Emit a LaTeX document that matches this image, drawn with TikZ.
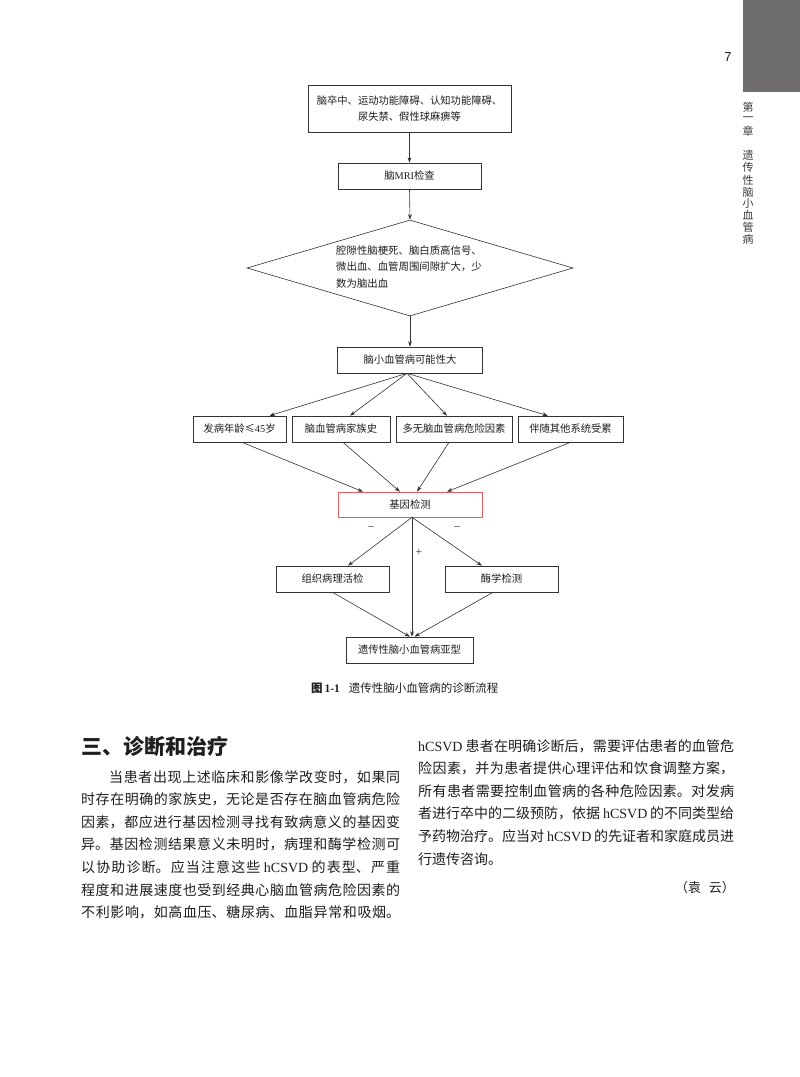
\documentclass[tikz,border=0pt]{standalone}
\usepackage{fontspec}
\setmainfont{Liberation Serif}
\newfontfamily\cjk{Noto Sans CJK SC}
\newfontfamily\sanslat{Liberation Sans}
\usetikzlibrary{shapes.geometric,arrows.meta}
\newcommand\latn[1]{{\rmfamily #1}}
\newcommand\bodysetup{\XeTeXlinebreaklocale "zh"\XeTeXlinebreakskip=0pt plus 6pt\XeTeXlinebreakpenalty=10000\relax}
\definecolor{linecol}{RGB}{50,50,50}
\definecolor{txt}{RGB}{30,30,30}
\definecolor{genered}{RGB}{232,90,100}
\definecolor{tabgray}{RGB}{110,108,108}
\definecolor{vtxt}{RGB}{60,60,60}
\begin{document}
\begin{tikzpicture}[x=1pt,y=-1pt,
  fc/.style={draw=linecol, line width=0.6pt, inner sep=0pt, text=txt,
    font=\cjk\fontsize{10.3}{16}\selectfont},
  ftext/.style={inner sep=0pt, text=txt, font=\cjk\fontsize{10.4}{16.5}\selectfont},
  arr/.style={draw=linecol, line width=0.6pt, -{Stealth[length=5.5pt,width=3.8pt]}},
  lab/.style={inner sep=0pt, text=txt, font=\fontsize{11}{12}\selectfont},
  body/.style={inner sep=0pt, text=txt, align=justify,
    font=\cjk\fontsize{14}{22.6}\selectfont\bodysetup},
]
\useasboundingbox (0,0) rectangle (800,1077);
\fill[white] (0,0) rectangle (800,1077);

% side tab and page number
\fill[tabgray] (743,0) rectangle (800,92);
\node[font=\sanslat\fontsize{13}{13}\selectfont, text=txt] (pn) at (728,57) {7};
\foreach \c/\yy in {第/107,一/119,章/131,遗/155,传/167,性/180,脑/192,小/203,血/215,管/227,病/239}
  \node[font=\cjk\fontsize{11}{11}\selectfont, text=vtxt, inner sep=0pt] (v\yy) at (748,\yy) {\c};

% flowchart
\node[fc, minimum width=203pt, minimum height=47pt, align=center] (b1) at (409.5,108.5)
  {脑卒中、运动功能障碍、认知功能障碍、\\尿失禁、假性球麻痹等};
\node[fc, minimum width=143pt, minimum height=26pt] (b2) at (409.5,176) {脑\latn{MRI}检查};
\node[draw=linecol, line width=0.6pt, diamond, minimum width=326pt, minimum height=96pt, inner sep=0pt] (d) at (410,268) {};
\node[ftext, anchor=north west, align=left] (dt) at (336,245.5)
  {腔隙性脑梗死、脑白质高信号、\\微出血、血管周围间隙扩大，少\\数为脑出血};
\node[fc, minimum width=145pt, minimum height=26pt] (b3) at (410,360) {脑小血管病可能性大};

\node[fc, minimum width=93pt, minimum height=26pt] (b4a) at (239.5,429) {发病年龄≤\latn{45}岁};
\node[fc, minimum width=98pt, minimum height=26pt] (b4b) at (341,429) {脑血管病家族史};
\node[fc, minimum width=116pt, minimum height=26pt] (b4c) at (454,429) {多无脑血管病危险因素};
\node[fc, minimum width=105pt, minimum height=26pt] (b4d) at (570.5,429) {伴随其他系统受累};

\node[fc, draw=genered, minimum width=144pt, minimum height=25pt] (g) at (410,504.5) {基因检测};
\node[fc, minimum width=113pt, minimum height=26pt] (t) at (332.5,579) {组织病理活检};
\node[fc, minimum width=113pt, minimum height=26pt] (e) at (501.5,579) {酶学检测};
\node[fc, minimum width=127pt, minimum height=26pt] (s) at (409.5,650) {遗传性脑小血管病亚型};

\draw[arr] (b1.south) -- (b2.north);
\draw[arr] (b2.south) -- (d.north);
\draw[arr] (d.south) -- (b3.north);

\draw[arr] ([xshift=-3pt]b3.south) -- ([xshift=30pt]b4a.north);
\draw[arr] ([xshift=-3pt]b3.south) -- ([xshift=9pt]b4b.north);
\draw[arr] ([xshift=-3pt]b3.south) -- ([xshift=-7pt]b4c.north);
\draw[arr] ([xshift=-3pt]b3.south) -- ([xshift=-22.5pt]b4d.north);

\draw[arr] ([xshift=2.5pt]b4a.south) -- ([xshift=-47pt]g.north);
\draw[arr] ([xshift=2pt]b4b.south) -- ([xshift=-10pt]g.north);
\draw[arr] ([xshift=-5pt]b4c.south) -- ([xshift=7pt]g.north);
\draw[arr] (b4d.south) -- ([xshift=37pt]g.north);

\draw[arr] ([xshift=2pt]g.south) -- ([xshift=15.5pt]t.north);
\draw[arr] ([xshift=2pt]g.south) -- ([xshift=-19.5pt]e.north);
\draw[arr] ([xshift=2pt]g.south) -- ([xshift=2.5pt]s.north);
\draw[arr] (t.south) -- ([xshift=0.5pt]s.north);
\draw[arr] ([xshift=-8.5pt]e.south) -- ([xshift=5pt]s.north);

\node[lab] (m1) at (371,528) {–};
\node[lab] (m2) at (457,528) {–};
\node[lab] (p) at (419,552) {+};

\node[anchor=west, inner sep=0pt, text=txt, font=\fontsize{11.5}{13}\selectfont] (cap) at (311,688)
  {{\bfseries\cjk 图\,\rmfamily 1-1}\hspace{9pt}{\cjk 遗传性脑小血管病的诊断流程}};

% text
\node[anchor=west, inner sep=0pt, text=txt, font=\cjk\bfseries\fontsize{21}{24}\selectfont] (h) at (81,747) {三、诊断和治疗};

\node[body, text width=319pt, anchor=base west] (p1) at (81,782)
{\hspace*{2em}当患者出现上述临床和影像学改变时，如果同\linebreak
时存在明确的家族史，无论是否存在脑血管病危险\linebreak
因素，都应进行基因检测寻找有致病意义的基因变\linebreak
异。基因检测结果意义未明时，病理和酶学检测可\linebreak
以协助诊断。应当注意这些~\latn{hCSVD}~的表型、严重\linebreak
程度和进展速度也受到经典心脑血管病危险因素的\linebreak
不利影响，如高血压、糖尿病、血脂异常和吸烟。\linebreak};

\node[body, text width=316pt, anchor=base west] (p2) at (418,751)
{\latn{hCSVD}~患者在明确诊断后，需要评估患者的血管危\linebreak
险因素，并为患者提供心理评估和饮食调整方案，\linebreak
所有患者需要控制血管病的各种危险因素。对发病\linebreak
者进行卒中的二级预防，依据~\latn{hCSVD}~的不同类型给\linebreak
予药物治疗。应当对~\latn{hCSVD}~的先证者和家庭成员进\linebreak
行遗传咨询。};

\node[anchor=east, inner sep=0pt, text=txt, font=\cjk\fontsize{13}{15}\selectfont] (sig) at (735,888) {（袁\hspace{0.6em}云）};
\end{tikzpicture}
\end{document}
